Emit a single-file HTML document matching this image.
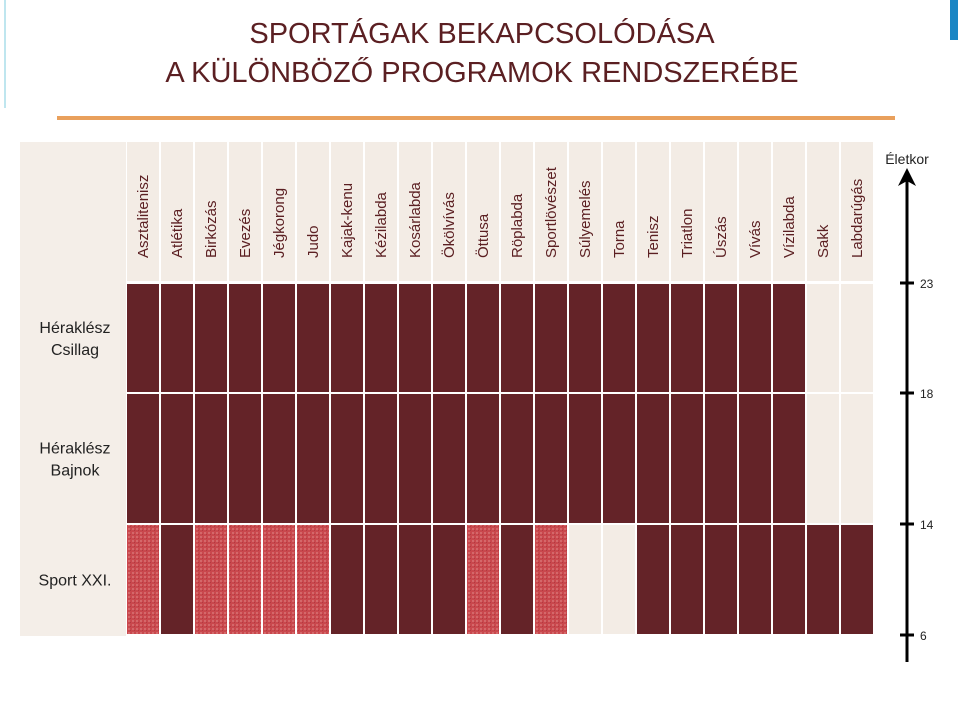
<!DOCTYPE html>
<html><head><meta charset="utf-8"><style>
body{margin:0;width:960px;height:716px;background:#fff;overflow:hidden;font-family:"Liberation Sans",sans-serif}
</style></head><body>
<svg width="960" height="716" viewBox="0 0 960 716" xmlns="http://www.w3.org/2000/svg">
<defs>
<pattern id="hatch" width="4" height="4" patternUnits="userSpaceOnUse">
<rect width="4" height="4" fill="#c9484d"/>
<rect width="2" height="2" fill="#d4686a"/>
<rect x="2" y="2" width="1" height="1" fill="#b23a40"/>
</pattern>
</defs>
<rect x="4" y="0" width="2" height="108" fill="#bfe6ef"/>
<rect x="950" y="0" width="8" height="40" fill="#1b86c4"/>
<text x="482" y="43" text-anchor="middle" font-size="29" fill="#5b1f22">SPORTÁGAK BEKAPCSOLÓDÁSA</text>
<text x="482" y="82" text-anchor="middle" font-size="29" fill="#5b1f22">A KÜLÖNBÖZŐ PROGRAMOK RENDSZERÉBE</text>
<rect x="57" y="116" width="838" height="4" fill="#e9a05c"/>
<rect x="20" y="142" width="106" height="494" fill="#f4eee8"/>
<g id="grid"></g>
<g id="axis"></g>
</svg>
<script>
const sports=["Asztalitenisz","Atlétika","Birkózás","Evezés","Jégkorong","Judo","Kajak-kenu","Kézilabda","Kosárlabda","Ökölvívás","Öttusa","Röplabda","Sportlövészet","Súlyemelés","Torna","Tenisz","Triatlon","Úszás","Vívás","Vízilabda","Sakk","Labdarúgás"];
const programs=["Héraklész Csillag","Héraklész Bajnok","Sport XXI."];
// 0 = not included, 1 = included, 2 = partially (hatched)
const rowCsillag=[1,1,1,1,1,1,1,1,1,1,1,1,1,1,1,1,1,1,1,1,0,0];
const rowBajnok=[1,1,1,1,1,1,1,1,1,1,1,1,1,1,1,1,1,1,1,1,0,0];
const rowSport=[2,1,2,2,2,2,1,1,1,1,2,1,2,0,0,1,1,1,1,1,1,1];
const ageTicks=[23,18,14,6];
const NS="http://www.w3.org/2000/svg";
const g=document.getElementById('grid'),ax=document.getElementById('axis');
const x0=126,colW=34,hdrTop=142,hdrBot=282;
const ageY=a=>{const p=[[23,283],[18,393],[14,524],[6,635]];for(let i=0;i<p.length-1;i++){if(a<=p[i][0]&&a>=p[i+1][0]){const t=(p[i][0]-a)/(p[i][0]-p[i+1][0]);return p[i][1]+t*(p[i+1][1]-p[i][1]);}}return 635;};
const colX=i=>x0+i*colW;
const rows=[rowCsillag,rowBajnok,rowSport];
const bounds=[[23,18],[18,14],[14,6]];
const fills=["#f3ece5","#642328","url(#hatch)"];
function mk(t,a){const e=document.createElementNS(NS,t);for(const k in a)e.setAttribute(k,a[k]);return e;}
sports.forEach((s,i)=>{
  const r=mk('rect',{x:colX(i)+1,y:hdrTop,width:colW-2,height:hdrBot-hdrTop-1,fill:'#f3ece5'});
  
  
  g.appendChild(r);
  const cx=colX(i)+colW/2+5;
  const t=mk('text',{x:cx,y:258,'font-size':15,fill:'#5b1f22',transform:`rotate(-90 ${cx} 258)`});
  t.textContent=s;
  
  
  g.appendChild(t);
});
rows.forEach((row,ri)=>{
  const y1=ageY(bounds[ri][0])+1,y2=ageY(bounds[ri][1])-1;
  row.forEach((v,i)=>{
    const r=mk('rect',{x:colX(i)+1,y:y1,width:colW-2,height:y2-y1,fill:fills[v]});
    
    
    g.appendChild(r);
  });
  const words=programs[ri].split(' ');
  const lines=programs[ri]==="Sport XXI."?[programs[ri]]:words;
  const cy=(y1+y2)/2;
  lines.forEach((w,li)=>{
    const t=mk('text',{x:75,y:cy+6+(li-(lines.length-1)/2)*22,'text-anchor':'middle','font-size':16,fill:'#222'});
    t.textContent=w;
    
    
    g.appendChild(t);
  });
});
const axLine=mk('line',{x1:907,y1:180,x2:907,y2:662,stroke:'#000','stroke-width':3});


ax.appendChild(axLine);
const arrow=mk('path',{d:'M907 168 L898 186 L907 181 L916 186 Z',fill:'#000'});


ax.appendChild(arrow);
const at=mk('text',{x:907,y:164,'text-anchor':'middle','font-size':14,fill:'#222'});
at.textContent='Életkor';


ax.appendChild(at);
ageTicks.forEach(a=>{
  const y=ageY(a);
  const l=mk('line',{x1:900,x2:914,y1:y,y2:y,stroke:'#000','stroke-width':3});
  
  
  ax.appendChild(l);
  const t=mk('text',{x:920,y:y+5,'font-size':12,fill:'#222'});
  t.textContent=a;
  
  
  ax.appendChild(t);
});
</script>
</body></html>
